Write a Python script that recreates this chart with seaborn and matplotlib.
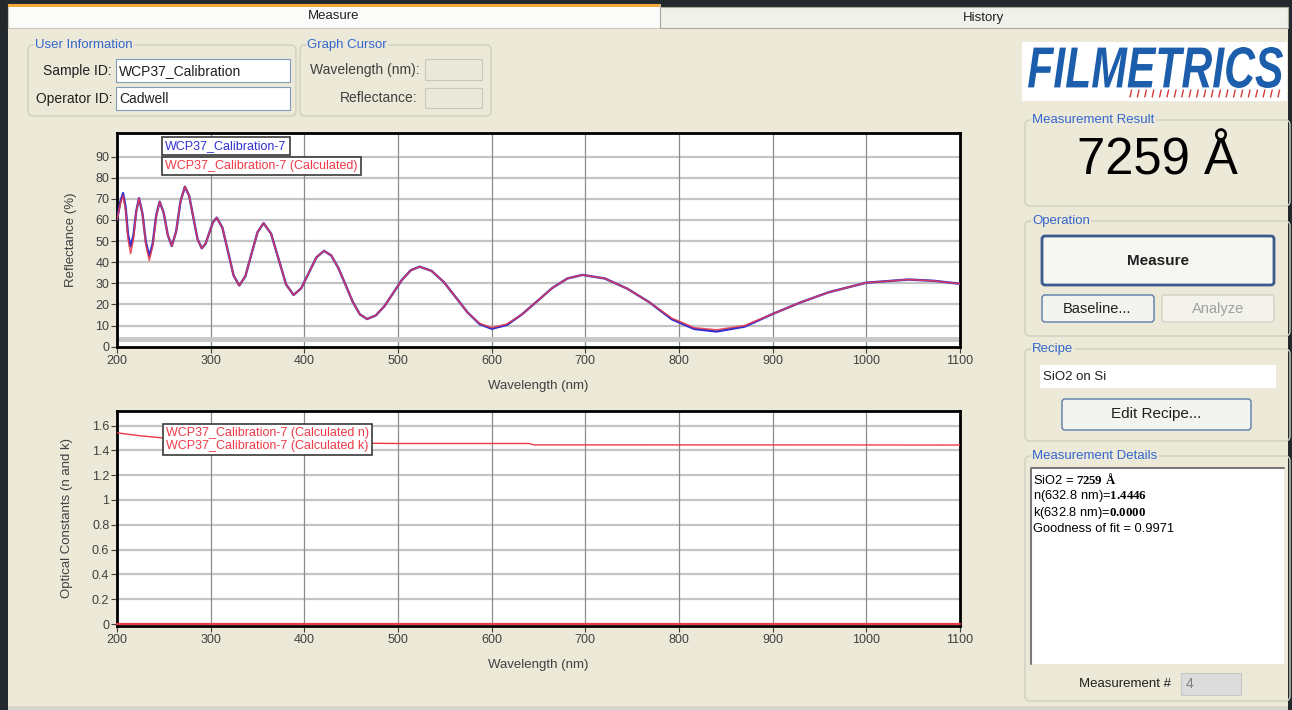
import matplotlib
matplotlib.use("Agg")
import matplotlib.pyplot as plt
import seaborn as sns
import numpy as np
from matplotlib.patches import Rectangle, FancyBboxPatch, PathPatch
from matplotlib.textpath import TextPath
from matplotlib.font_manager import FontProperties
from matplotlib.transforms import Affine2D

W, H = 1292, 710

# Reflectance spectrum (nm, %)
wavelength = [200, 203.5, 206.5, 209.2, 211.8, 214.5, 217.5, 220.5, 223.5, 227.2,
              230.8, 234.5, 238.2, 241.8, 245.5, 249.8, 254.2, 258.5, 263.2, 267.8,
              272.5, 277, 281.5, 286, 290.5, 294.5, 298.5, 302.5, 306.5, 312.5,
              318.5, 324.5, 330.5, 337, 343.5, 350, 356.5, 364.5, 372.5, 380.5,
              388.5, 396.6, 404.8, 412.9, 421, 428.7, 436.3, 444, 451.7, 459.3,
              467, 476.3, 485.7, 495, 504.3, 513.7, 523, 535.8, 548.7, 561.5,
              574.3, 587.2, 600, 616.2, 632.3, 648.5, 664.7, 680.8, 697, 720.8,
              744.7, 768.5, 792.3, 816.2, 840, 870, 900, 930, 960, 1000,
              1045, 1072, 1100]
refl_measured = [60, 68.5, 72.7, 66, 53, 47.5, 52.5, 64, 70.3, 63,
                 49.5, 42.8, 49, 62, 68.7, 63.5, 52.9, 47.7, 54.7, 68.8,
                 75.8, 71.5, 61.2, 50.9, 46.6, 48.7, 53.9, 59, 61.1, 56.4,
                 45.1, 33.7, 29, 33.3, 43.8, 54.2, 58.5, 53.5, 41.5, 29.5,
                 24.5, 27.6, 35, 42.3, 45.4, 43.2, 37.3, 29.3, 21.2, 15.3,
                 13.1, 14.8, 19.3, 25.5, 31.7, 36.2, 37.9, 35.9, 30.7, 23.5,
                 16.2, 10.7, 8.5, 10.3, 15.3, 21.5, 27.8, 32.3, 34, 32.3,
                 27.5, 21, 13, 8.4, 7.2, 9.5, 15.5, 21, 25.8, 30.3,
                 31.8, 31.2, 29.8]
refl_calculated = [60, 67.5, 71.5, 64.6, 50.9, 44, 50.6, 63.7, 70.3, 62.9,
                   48.2, 40.8, 47.8, 61.7, 68.7, 63.5, 52.9, 47.7, 54.7, 68.8,
                   75.8, 71.5, 61.2, 50.9, 46.6, 48.7, 53.9, 59, 61.1, 56.4,
                   45.1, 33.7, 29, 33.3, 43.8, 54.2, 58.5, 53.5, 41.5, 29.5,
                   24.5, 27.6, 35, 42.3, 45.4, 43.2, 37.3, 29.3, 21.2, 15.3,
                   13.1, 14.8, 19.3, 25.5, 31.7, 36.2, 37.9, 35.9, 30.7, 23.5,
                   16.2, 11, 9, 10.7, 15.3, 21.5, 27.8, 32.3, 34, 32.3,
                   27.5, 21, 13.5, 9, 8, 10, 15.5, 21, 25.8, 30.3,
                   31.8, 31.2, 29.8]

# Optical constants
n_wavelength = [200, 225, 250, 300, 400, 500, 640, 645, 1100]
n_calculated = [1.541, 1.517, 1.499, 1.478, 1.462, 1.455, 1.455, 1.444, 1.443]
k_wavelength = [200, 1100]
k_calculated = [0.0, 0.0]

wl_ticks = [200, 300, 400, 500, 600, 700, 800, 900, 1000, 1100]
refl_ticks = [0, 10, 20, 30, 40, 50, 60, 70, 80, 90]
nk_ticks = [0, 0.2, 0.4, 0.6, 0.8, 1.0, 1.2, 1.4, 1.6]
nk_ticklabels = ["0", "0.2", "0.4", "0.6", "0.8", "1", "1.2", "1.4", "1.6"]

sns.set_theme(style="white")
plt.rcParams['font.family'] = ['Liberation Sans', 'DejaVu Sans']
plt.rcParams['mathtext.fontset'] = 'custom'
plt.rcParams['mathtext.rm'] = 'Liberation Sans'
plt.rcParams['mathtext.bf'] = 'Liberation Serif:bold'

BEIGE = '#ECE9D8'
GROUP_EDGE = '#D0D0BF'
LABEL_BLUE = '#3366CC'
TXT = '#202020'
BLUE = '#3030D0'
RED = '#EE3A48'

fig = plt.figure(figsize=(W / 100, H / 100), dpi=100, facecolor='#23282C')

# full-figure axes in pixel coordinates for the window chrome
ui = fig.add_axes([0, 0, 1, 1], zorder=0)
ui.set_xlim(0, W)
ui.set_ylim(H, 0)
ui.axis('off')


def rect(x0, y0, x1, y1, fc, ec='none', lw=1.0, rounded=0, z=1):
    if rounded:
        p = FancyBboxPatch((x0, y0), x1 - x0, y1 - y0,
                           boxstyle=f"round,pad=0,rounding_size={rounded}",
                           fc=fc, ec=ec, lw=lw, zorder=z)
    else:
        p = Rectangle((x0, y0), x1 - x0, y1 - y0, fc=fc, ec=ec, lw=lw, zorder=z)
    ui.add_patch(p)


def group(x0, y0, x1, y1, label):
    rect(x0, y0, x1, y1, 'none', GROUP_EDGE, 1.0, rounded=5)
    ui.text(x0 + 7, y0, label, color=LABEL_BLUE, fontsize=9.5, va='center',
            ha='left', zorder=3,
            bbox=dict(boxstyle='square,pad=0.1', fc=BEIGE, ec='none'))


def px_axes(x0, y0, x1, y1):
    return fig.add_axes([x0 / W, 1 - y1 / H, (x1 - x0) / W, (y1 - y0) / H], zorder=2)


# window background and tabs
rect(8, 28, 1288, 706, BEIGE)
rect(8, 706, 1288, 710, '#D6D6CE')
rect(8, 4, 660, 28, '#FBFBF9', '#C8C8BC', 0.8)
rect(8, 4, 660, 6.5, '#F2A93B')
rect(660, 7, 1288, 28, '#F1F1EB', '#A9A99A', 0.8)
ui.text(334, 16, "Measure", fontsize=9.5, color=TXT, ha='center', va='center')
ui.text(983, 18, "History", fontsize=9.5, color=TXT, ha='center', va='center')

# user information / graph cursor
group(28, 45, 296, 116, "User Information")
ui.text(112, 71, "Sample ID:", fontsize=10, color=TXT, ha='right', va='center')
rect(116, 59, 290, 82, 'white', '#7F9DB9', 0.8)
ui.text(119, 71, "WCP37_Calibration", fontsize=10, color=TXT, ha='left', va='center')
ui.text(112, 99, "Operator ID:", fontsize=10, color=TXT, ha='right', va='center')
rect(116, 87, 290, 110, 'white', '#7F9DB9', 0.8)
ui.text(119, 99, "Cadwell", fontsize=10, color=TXT, ha='left', va='center')

group(300, 45, 491, 116, "Graph Cursor")
ui.text(419, 70, "Wavelength (nm):", fontsize=10, color='#404040', ha='right', va='center')
rect(425, 59, 482, 80, '#EAE8DA', '#C9C7BA', 0.8)
ui.text(417, 98, "Reflectance:", fontsize=10, color='#404040', ha='right', va='center')
rect(425, 88, 482, 108, '#EAE8DA', '#C9C7BA', 0.8)

# logo
rect(1022, 42, 1287, 101, 'white')
tp = TextPath((0, 0), "FILMETRICS", size=100,
              prop=FontProperties(family='Liberation Sans', weight='bold', style='italic'))
ext = tp.get_extents()
logo_tr = (Affine2D().translate(-ext.x0, -ext.y0)
           .scale(255 / ext.width, -41 / ext.height).translate(1028, 88))
ui.add_patch(PathPatch(logo_tr.transform_path(tp), fc='#1C5DAC', ec='none', zorder=3))
for xs in np.arange(1130, 1281, 7.4):
    ui.plot([xs, xs + 1.6], [97, 90], color='#D23A3A', lw=1.0, zorder=3)

# measurement result
group(1025, 120, 1290, 206, "Measurement Result")
ui.text(1157, 161, "7259 Å", fontsize=36.5, color='black', ha='center', va='center')

# operation
group(1025, 221, 1290, 336, "Operation")
rect(1042, 236, 1274, 285, '#F6F6F3', '#3C5A8C', 2.0, rounded=3)
ui.text(1158, 261, "Measure", fontsize=11, fontweight='bold', color=TXT,
        ha='center', va='center')
rect(1042, 295, 1154, 322, '#F3F3EF', '#5A7CA8', 1.0, rounded=3)
ui.text(1097, 309, "Baseline...", fontsize=10.5, color=TXT, ha='center', va='center')
rect(1162, 295, 1274, 322, '#F3F2EB', '#D4D2C6', 1.0, rounded=3)
ui.text(1218, 309, "Analyze", fontsize=10.5, color='#A0A0A0', ha='center', va='center')

# recipe
group(1025, 349, 1290, 441, "Recipe")
rect(1040, 365, 1276, 388, 'white')
ui.text(1043, 377, "SiO2 on Si", fontsize=9.5, color=TXT, ha='left', va='center')
rect(1062, 399, 1251, 430, '#F3F3EF', '#5A7CA8', 1.0, rounded=3)
ui.text(1156, 414, "Edit Recipe...", fontsize=11, color=TXT, ha='center', va='center')

# measurement details
group(1025, 456, 1290, 701, "Measurement Details")
rect(1031, 468, 1284, 664, 'white')
ui.plot([1031, 1031, 1284], [664, 468, 468], color='#7A7A7A', lw=1.5, zorder=3)
details = ["SiO2 = $\\mathbf{7259\\ Å}$",
           "n(632.8 nm)=$\\mathbf{1.4446}$",
           "k(632.8 nm)=$\\mathbf{0.0000}$",
           "Goodness of fit = 0.9971"]
for i, line in enumerate(details):
    ui.text(1033, 480 + i * 16.5, line, fontsize=9.3, color='black', ha='left', va='center')
ui.text(1171, 684, "Measurement #", fontsize=9.5, color=TXT, ha='right', va='center')
rect(1181, 673, 1241, 695, '#DCDCDC', '#C8C8C8', 0.8)
ui.text(1186, 684, "4", fontsize=10, color='#808080', ha='left', va='center')


def style_axes(ax, yticks, ylabels, ylim, ylabel):
    ax.set_facecolor('white')
    ax.set_xlim(200, 1100)
    ax.set_ylim(*ylim)
    ax.set_xticks(wl_ticks)
    ax.set_yticks(yticks)
    ax.set_yticklabels(ylabels)
    for y in yticks[1:]:
        ax.axhline(y, color='#C4C4C4', lw=1.6, zorder=0)
    for x in wl_ticks[1:-1]:
        ax.axvline(x, color='#8C8C8C', lw=0.9, zorder=0)
    for sp in ax.spines.values():
        sp.set_visible(True)
        sp.set_color('black')
        sp.set_linewidth(2.0)
    ax.tick_params(axis='both', direction='out', length=4, width=0.8,
                   color='#404040', labelcolor='#404040', labelsize=9, pad=1.5,
                   left=True, bottom=True)


# reflectance plot
ax1 = px_axes(117, 133, 960, 347)
style_axes(ax1, refl_ticks, [str(t) for t in refl_ticks], (-0.15, 101.2), "Reflectance (%)")
ax1.axhline(3.7, color='#C8C8C8', lw=3.5, zorder=0)
sns.lineplot(x=wavelength, y=refl_measured, ax=ax1, color=BLUE, lw=1.7, sort=False, zorder=3)
sns.lineplot(x=wavelength, y=refl_calculated, ax=ax1, color=RED, lw=1.1, alpha=0.85,
             sort=False, zorder=4)
ax1.set_xlabel("Wavelength (nm)", fontsize=9.5, color='#404040')
ax1.set_ylabel("Reflectance (%)", fontsize=9.5, color='#404040')
ax1.xaxis.set_label_coords(0.5, -0.155)
ax1.yaxis.set_label_coords(-0.0475, 0.5)
ax1.text(165, 146, "WCP37_Calibration-7", transform=ui.transData, fontsize=9,
         color=BLUE, ha='left', va='center', zorder=10, clip_on=False,
         bbox=dict(boxstyle='square,pad=0.25', fc='white', ec='#3A3A3A', lw=1.2))
ax1.text(165, 166, "WCP37_Calibration-7 (Calculated)", transform=ui.transData, fontsize=9,
         color=RED, ha='left', va='center', zorder=10, clip_on=False,
         bbox=dict(boxstyle='square,pad=0.25', fc='white', ec='#3A3A3A', lw=1.2))

# optical constants plot
ax2 = px_axes(117, 411, 960, 626)
style_axes(ax2, nk_ticks, nk_ticklabels, (-0.016, 1.717), "Optical Constants (n and k)")
sns.lineplot(x=n_wavelength, y=n_calculated, ax=ax2, color=RED, lw=1.0, sort=False, zorder=3)
sns.lineplot(x=k_wavelength, y=k_calculated, ax=ax2, color=RED, lw=1.6, sort=False,
             zorder=3, clip_on=False)
ax2.set_xlabel("Wavelength (nm)", fontsize=9.5, color='#404040')
ax2.set_ylabel("Optical Constants (n and k)", fontsize=9.5, color='#404040')
ax2.xaxis.set_label_coords(0.5, -0.153)
ax2.yaxis.set_label_coords(-0.052, 0.5)
ax2.text(166, 439.5, "WCP37_Calibration-7 (Calculated n)\nWCP37_Calibration-7 (Calculated k)",
         transform=ui.transData, fontsize=9, color=RED, ha='left', va='center',
         linespacing=1.15, zorder=10, clip_on=False,
         bbox=dict(boxstyle='square,pad=0.25', fc='white', ec='#3A3A3A', lw=1.2))

fig.savefig("out.png", dpi=100, facecolor=fig.get_facecolor())
